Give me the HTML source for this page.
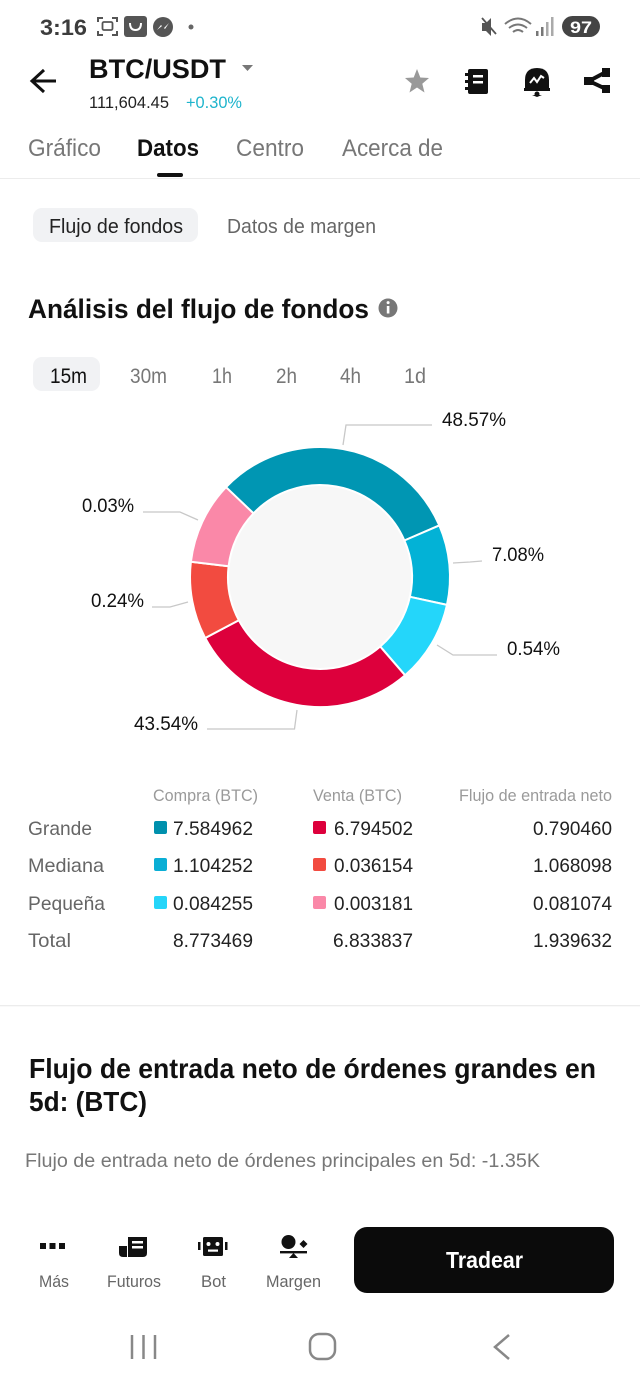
<!DOCTYPE html>
<html><head><meta charset="utf-8"><style>
html,body{margin:0;padding:0;background:#fff;}
svg{display:block;font-family:"Liberation Sans",sans-serif;}
</style></head><body>
<svg width="640" height="1387" viewBox="0 0 640 1387" xmlns="http://www.w3.org/2000/svg">
<rect width="640" height="1387" fill="#fff"/>
<!-- status bar -->
<text x="40" y="35" font-size="22" font-weight="700" fill="#3c3c3c" textLength="47" lengthAdjust="spacingAndGlyphs">3:16</text>
<path d="M98 22v-4h5 M112 18h5v4 M117 31v4h-5 M103 35h-5v-4" stroke="#555" stroke-width="2" fill="none"/>
<rect x="102.5" y="22" width="10" height="8" rx="1.5" fill="none" stroke="#555" stroke-width="1.8"/>
<rect x="124" y="16" width="23" height="21" rx="3" fill="#555"/>
<path d="M130 23q0 7 5.5 7t5.5 -7" stroke="#fff" stroke-width="2" fill="none"/>
<circle cx="163" cy="27" r="10" fill="#555"/>
<path d="M157 30l4-5 3 3 5-5-4 6-3-3z" fill="#fff"/>
<circle cx="191" cy="27" r="2.5" fill="#666"/>
<path d="M482 23h4l5-5v18l-5-5h-4z" fill="#555"/>
<path d="M482 18l14 16" stroke="#555" stroke-width="1.8"/>
<path d="M505 24q13-11 26 0 M509 28q9-7 18 0 M513 32q5-4 10 0" stroke="#777" stroke-width="2" fill="none"/>
<rect x="536" y="31" width="2.5" height="5" fill="#777"/><rect x="541" y="27" width="2.5" height="9" fill="#777"/><rect x="546" y="22" width="2.5" height="14" fill="#aaa"/><rect x="551" y="17" width="2.5" height="19" fill="#aaa"/>
<rect x="562" y="16" width="38" height="21" rx="10.5" fill="#444"/>
<text x="570" y="33" font-size="17" font-weight="700" fill="#fff" textLength="22" lengthAdjust="spacingAndGlyphs">97</text>

<!-- header -->
<path d="M56 81H33 M44 70L32 81L44 92" stroke="#111" stroke-width="3" fill="none" stroke-linejoin="miter"/>
<text x="89" y="78" font-size="27" font-weight="700" fill="#111" textLength="137" lengthAdjust="spacingAndGlyphs">BTC/USDT</text>
<polygon points="242,65 253,65 247.5,71" fill="#777"/>
<text x="89" y="108" font-size="17" fill="#222" textLength="80" lengthAdjust="spacingAndGlyphs">111,604.45</text>
<text x="186" y="108" font-size="17" fill="#1eb4cc" textLength="56" lengthAdjust="spacingAndGlyphs">+0.30%</text>
<polygon points="417,69 420.3,77.5 429,78 422.3,83.7 424.5,92.5 417,87.5 409.5,92.5 411.7,83.7 405,78 413.7,77.5" fill="#999"/>
<rect x="468" y="69" width="20" height="25" rx="2" fill="#111"/>
<rect x="465" y="73" width="5" height="3" fill="#111"/><rect x="465" y="80" width="5" height="3" fill="#111"/><rect x="465" y="87" width="5" height="3" fill="#111"/>
<rect x="473" y="75" width="10" height="2.5" fill="#fff"/><rect x="473" y="81" width="10" height="2.5" fill="#fff"/>
<path d="M525 90v-10q0-12 12-12t12 12v10z" fill="#111"/>
<rect x="524" y="88" width="26" height="3" fill="#111"/>
<path d="M532 95h10l-5 2z" fill="#111"/><circle cx="537" cy="94" r="2.5" fill="#111"/>
<path d="M530 83l4-5 3 4 4-6 3 2" stroke="#fff" stroke-width="2" fill="none"/>
<path d="M606 72L589 81L606 89" stroke="#111" stroke-width="4" fill="none"/>
<rect x="602" y="68" width="8" height="9" fill="#111"/><rect x="584" y="77" width="10" height="8" fill="#111"/><rect x="602" y="85" width="8" height="8" fill="#111"/>

<!-- tabs -->
<text x="28" y="156" font-size="24" fill="#777" textLength="73" lengthAdjust="spacingAndGlyphs">Gráfico</text>
<text x="137" y="156" font-size="24" font-weight="700" fill="#111" textLength="62" lengthAdjust="spacingAndGlyphs">Datos</text>
<text x="236" y="156" font-size="24" fill="#777" textLength="68" lengthAdjust="spacingAndGlyphs">Centro</text>
<text x="342" y="156" font-size="24" fill="#777" textLength="101" lengthAdjust="spacingAndGlyphs">Acerca de</text>
<rect x="157" y="173" width="26" height="4" rx="2" fill="#111"/>
<rect x="0" y="178" width="640" height="1" fill="#ececec"/>

<!-- sub tabs -->
<rect x="33" y="208" width="165" height="34" rx="9" fill="#f1f2f4"/>
<text x="49" y="233" font-size="20" fill="#222" textLength="134" lengthAdjust="spacingAndGlyphs">Flujo de fondos</text>
<text x="227" y="233" font-size="20" fill="#666" textLength="149" lengthAdjust="spacingAndGlyphs">Datos de margen</text>

<!-- title -->
<text x="28" y="318" font-size="27" font-weight="700" fill="#111" textLength="341" lengthAdjust="spacingAndGlyphs">Análisis del flujo de fondos</text>
<circle cx="388" cy="308" r="9.5" fill="#777"/>
<rect x="386.8" y="306" width="2.6" height="7.5" fill="#fff"/><circle cx="388.1" cy="302.6" r="1.5" fill="#fff"/>

<!-- time pills -->
<rect x="33" y="357" width="67" height="34" rx="9" fill="#f1f2f4"/>
<g font-size="21" fill="#777">
<text x="50" y="383" fill="#111" textLength="37" lengthAdjust="spacingAndGlyphs">15m</text>
<text x="130" y="383" textLength="37" lengthAdjust="spacingAndGlyphs">30m</text>
<text x="212" y="383" textLength="20" lengthAdjust="spacingAndGlyphs">1h</text>
<text x="276" y="383" textLength="21" lengthAdjust="spacingAndGlyphs">2h</text>
<text x="340" y="383" textLength="21" lengthAdjust="spacingAndGlyphs">4h</text>
<text x="404" y="383" textLength="22" lengthAdjust="spacingAndGlyphs">1d</text>
</g>

<!-- donut -->
<circle cx="320" cy="577" r="92" fill="#f7f7f7"/>
<g stroke="#fff" stroke-width="2" stroke-linejoin="round">
<path d="M226.0 487.2 A130 130 0 0 1 439.3 525.4 L404.4 540.5 A92 92 0 0 0 253.5 513.4 Z" fill="#0096b3"/>
<path d="M439.3 525.4 A130 130 0 0 1 447.0 604.9 L409.9 596.8 A92 92 0 0 0 404.4 540.5 Z" fill="#03b2d6"/>
<path d="M447.0 604.9 A130 130 0 0 1 405.1 675.3 L380.2 646.5 A92 92 0 0 0 409.9 596.8 Z" fill="#24d6fa"/>
<path d="M405.1 675.3 A130 130 0 0 1 205.2 638.0 L238.8 620.2 A92 92 0 0 0 380.2 646.5 Z" fill="#dd003c"/>
<path d="M205.2 638.0 A130 130 0 0 1 190.9 561.8 L228.6 566.3 A92 92 0 0 0 238.8 620.2 Z" fill="#f24b40"/>
<path d="M190.9 561.8 A130 130 0 0 1 226.0 487.2 L253.5 513.4 A92 92 0 0 0 228.6 566.3 Z" fill="#fa88a8"/>
</g>
<g stroke="#c8c8c8" stroke-width="1.3" fill="none">
<polyline points="343,445 346,425 432,425"/>
<polyline points="453,563 470,562 482,561"/>
<polyline points="437,645 453,655 497,655"/>
<polyline points="297,710 294.5,729 207,729"/>
<polyline points="188,602 170,607 152,607"/>
<polyline points="198,520 180,512 143,512"/>
</g>
<g font-size="19.5" fill="#111">
<text x="442" y="426" textLength="64" lengthAdjust="spacingAndGlyphs">48.57%</text>
<text x="492" y="561" textLength="52" lengthAdjust="spacingAndGlyphs">7.08%</text>
<text x="507" y="655" textLength="53" lengthAdjust="spacingAndGlyphs">0.54%</text>
<text x="134" y="730" textLength="64" lengthAdjust="spacingAndGlyphs">43.54%</text>
<text x="91" y="607" textLength="53" lengthAdjust="spacingAndGlyphs">0.24%</text>
<text x="82" y="512" textLength="52" lengthAdjust="spacingAndGlyphs">0.03%</text>
</g>

<!-- table -->
<g font-size="17" fill="#9a9a9a">
<text x="153" y="801" textLength="105" lengthAdjust="spacingAndGlyphs">Compra (BTC)</text>
<text x="313" y="801" textLength="89" lengthAdjust="spacingAndGlyphs">Venta (BTC)</text>
<text x="459" y="801" textLength="153" lengthAdjust="spacingAndGlyphs">Flujo de entrada neto</text>
</g>
<g font-size="19.5" fill="#666">
<text x="28" y="835" textLength="64" lengthAdjust="spacingAndGlyphs">Grande</text>
<text x="28" y="872" textLength="76" lengthAdjust="spacingAndGlyphs">Mediana</text>
<text x="28" y="910" textLength="77" lengthAdjust="spacingAndGlyphs">Pequeña</text>
<text x="28" y="947" textLength="43" lengthAdjust="spacingAndGlyphs">Total</text>
</g>
<rect x="154" y="821" width="13" height="13" rx="2" fill="#0090ad"/>
<rect x="313" y="821" width="13" height="13" rx="2" fill="#dd003c"/>
<rect x="154" y="858" width="13" height="13" rx="2" fill="#0aaed5"/>
<rect x="313" y="858" width="13" height="13" rx="2" fill="#f24b40"/>
<rect x="154" y="896" width="13" height="13" rx="2" fill="#25d5f9"/>
<rect x="313" y="896" width="13" height="13" rx="2" fill="#fa88a8"/>
<g font-size="19.5" fill="#222">
<text x="173" y="835" textLength="80" lengthAdjust="spacingAndGlyphs">7.584962</text>
<text x="334" y="835" textLength="79" lengthAdjust="spacingAndGlyphs">6.794502</text>
<text x="533" y="835" textLength="79" lengthAdjust="spacingAndGlyphs">0.790460</text>
<text x="173" y="872" textLength="80" lengthAdjust="spacingAndGlyphs">1.104252</text>
<text x="334" y="872" textLength="79" lengthAdjust="spacingAndGlyphs">0.036154</text>
<text x="533" y="872" textLength="79" lengthAdjust="spacingAndGlyphs">1.068098</text>
<text x="173" y="910" textLength="80" lengthAdjust="spacingAndGlyphs">0.084255</text>
<text x="334" y="910" textLength="79" lengthAdjust="spacingAndGlyphs">0.003181</text>
<text x="533" y="910" textLength="79" lengthAdjust="spacingAndGlyphs">0.081074</text>
<text x="173" y="947" textLength="80" lengthAdjust="spacingAndGlyphs">8.773469</text>
<text x="333" y="947" textLength="80" lengthAdjust="spacingAndGlyphs">6.833837</text>
<text x="533" y="947" textLength="79" lengthAdjust="spacingAndGlyphs">1.939632</text>
</g>

<rect x="0" y="1005" width="640" height="1.3" fill="#ececec"/>

<!-- section 2 -->
<text x="29" y="1078" font-size="28" font-weight="700" fill="#111" textLength="567" lengthAdjust="spacingAndGlyphs">Flujo de entrada neto de órdenes grandes en</text>
<text x="29" y="1111" font-size="28" font-weight="700" fill="#111" textLength="118" lengthAdjust="spacingAndGlyphs">5d: (BTC)</text>
<text x="25" y="1167" font-size="19.5" fill="#777" textLength="515" lengthAdjust="spacingAndGlyphs">Flujo de entrada neto de órdenes principales en 5d: -1.35K</text>

<!-- bottom bar -->
<rect x="40" y="1243" width="6" height="6" fill="#111"/><rect x="49.5" y="1243" width="6" height="6" fill="#111"/><rect x="59" y="1243" width="6" height="6" fill="#111"/>
<path d="M119 1246h8v11h-4q-4 0-4-4z" fill="#111"/>
<path d="M128 1237h19v16q0 4-4 4h-15z" fill="#111"/>
<rect x="132" y="1241" width="11" height="2.5" fill="#fff"/><rect x="132" y="1246" width="11" height="2.5" fill="#fff"/>
<rect x="203" y="1237" width="20" height="19" rx="1.5" fill="#111"/>
<rect x="198" y="1242" width="2.5" height="8" fill="#111"/><rect x="225" y="1242" width="2.5" height="8" fill="#111"/>
<circle cx="208.5" cy="1244" r="2" fill="#fff"/><circle cx="217.5" cy="1244" r="2" fill="#fff"/>
<rect x="208" y="1249.5" width="10" height="2.2" fill="#fff"/>
<circle cx="288.5" cy="1242" r="7" fill="#111"/>
<polygon points="303.5,1240 307.5,1244 303.5,1248 299.5,1244" fill="#111"/>
<rect x="280" y="1251" width="27" height="2.4" fill="#111"/>
<polygon points="293.5,1253 298,1258 289,1258" fill="#111"/>
<g font-size="17" fill="#666">
<text x="39" y="1287" textLength="30" lengthAdjust="spacingAndGlyphs">Más</text>
<text x="107" y="1287" textLength="54" lengthAdjust="spacingAndGlyphs">Futuros</text>
<text x="201" y="1287" textLength="25" lengthAdjust="spacingAndGlyphs">Bot</text>
<text x="266" y="1287" textLength="55" lengthAdjust="spacingAndGlyphs">Margen</text>
</g>
<rect x="354" y="1227" width="260" height="66" rx="13" fill="#0b0b0b"/>
<text x="446" y="1268" font-size="23" font-weight="700" fill="#fff" textLength="77" lengthAdjust="spacingAndGlyphs">Tradear</text>

<!-- nav bar -->
<g stroke="#888" stroke-width="2.5" fill="none">
<line x1="132" y1="1335" x2="132" y2="1359"/>
<line x1="143.5" y1="1335" x2="143.5" y2="1359"/>
<line x1="155" y1="1335" x2="155" y2="1359"/>
<rect x="310" y="1334" width="25" height="25" rx="9"/>
<polyline points="509,1335 495,1347 509,1359"/>
</g>
</svg>
</body></html>
